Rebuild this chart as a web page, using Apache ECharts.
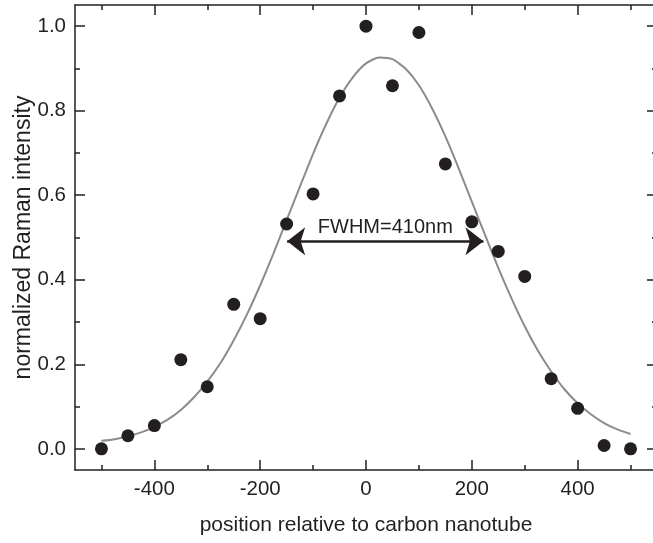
<!DOCTYPE html>
<html><head><meta charset="utf-8">
<script src="https://cdn.jsdelivr.net/npm/echarts@6/dist/echarts.min.js"></script>
<style>html,body{margin:0;padding:0;background:#fff}#c{width:653px;height:543px}</style>
</head><body><div id="c"></div>
<script>
const positions = [-500,-450,-400,-350,-300,-250,-200,-150,-100,-50,0,50,100,150,200,250,300,350,400,450,500];
const intensity = [0.0,0.031,0.055,0.211,0.147,0.342,0.308,0.532,0.603,0.835,1.0,0.859,0.985,0.674,0.537,0.467,0.408,0.166,0.096,0.008,0.0];
const fitX = [-500,-475,-450,-425,-400,-375,-350,-325,-300,-275,-250,-225,-200,-175,-150,-125,-100,-75,-50,-25,0,25,50,75,100,125,150,175,200,225,250,275,300,325,350,375,400,425,450,475,500];
const fitY = [0.019,0.023,0.030,0.039,0.052,0.069,0.092,0.122,0.159,0.203,0.257,0.318,0.387,0.462,0.541,0.620,0.698,0.769,0.831,0.879,0.912,0.926,0.922,0.899,0.860,0.805,0.739,0.664,0.585,0.506,0.428,0.356,0.290,0.232,0.183,0.141,0.108,0.082,0.061,0.046,0.035];
const xMajorTicks = [-400,-200,0,200,400];
const xMinorTicks = [-500,-300,-100,100,300,500];
const yMajorTicks = [0,0.2,0.4,0.6,0.8,1.0];
const yMinorTicks = [0.1,0.3,0.5,0.7,0.9];
const fwhmArrow = {from:-149, to:222, level:0.491};
const fwhmLabel = 'FWHM=410nm';
const xTitle = 'position relative to carbon nanotube';
const yTitle = 'normalized Raman intensity';

const INK = '#231f20';
const FONT = 'Liberation Sans, Arial, Helvetica, sans-serif';
const X_MIN = -550, X_MAX = 550, Y_MIN = -0.05, Y_MAX = 1.05;

function mkAxis(kind, pos, ticks, len, showLine, showLabels, extra) {
  const ax = {
    type: 'value', position: pos,
    min: kind === 'x' ? X_MIN : Y_MIN, max: kind === 'x' ? X_MAX : Y_MAX,
    axisLine: {show: showLine, onZero: false, lineStyle: {color: INK, width: 1.5}},
    axisTick: {show: true, inside: true, length: len, customValues: ticks, lineStyle: {color: INK, width: 1.5}},
    axisLabel: {show: showLabels, customValues: ticks, color: INK, fontSize: 20.5, fontFamily: FONT, margin: 9,
      formatter: kind === 'y' ? (v => v.toFixed(1)) : (v => String(v))},
    splitLine: {show: false}
  };
  return Object.assign(ax, extra || {});
}

const chart = echarts.init(document.getElementById('c'), null, {renderer: 'canvas'});
chart.setOption({
  animation: false,
  backgroundColor: '#fff',
  grid: {left: 75, top: 5, width: 582, height: 465, containLabel: false, outerBoundsMode: 'none'},
  xAxis: [
    mkAxis('x', 'bottom', xMajorTicks, 10, true, true, {
      name: xTitle, nameLocation: 'middle', nameGap: 45, nameMoveOverlap: false,
      nameTextStyle: {color: INK, fontSize: 21, fontFamily: FONT}
    }),
    mkAxis('x', 'bottom', xMinorTicks, 5, false, false),
    mkAxis('x', 'top', xMajorTicks, 10, true, false),
    mkAxis('x', 'top', xMinorTicks, 5, false, false)
  ],
  yAxis: [
    mkAxis('y', 'left', yMajorTicks, 10, true, true, {
      name: yTitle, nameLocation: 'middle', nameGap: 40, nameMoveOverlap: false,
      nameTextStyle: {color: INK, fontSize: 23, fontFamily: FONT}
    }),
    mkAxis('y', 'left', yMinorTicks, 5, false, false),
    mkAxis('y', 'right', yMajorTicks, 10, true, false),
    mkAxis('y', 'right', yMinorTicks, 5, false, false)
  ],
  series: [
    {
      type: 'line', xAxisIndex: 0, yAxisIndex: 0,
      data: fitX.map((x, i) => [x, fitY[i]]),
      smooth: 0.2, showSymbol: false, symbol: 'none',
      lineStyle: {color: '#8c8c8c', width: 2}, z: 2,
      markLine: {
        silent: true, animation: false,
        symbol: ['arrow', 'arrow'], symbolSize: [21, 18],
        lineStyle: {color: INK, width: 2.5, type: 'solid'},
        itemStyle: {color: INK},
        label: {show: true, formatter: fwhmLabel, position: 'insideMiddleTop', distance: 4,
          color: INK, fontSize: 20, fontFamily: FONT},
        data: [[{coord: [fwhmArrow.from, fwhmArrow.level]}, {coord: [fwhmArrow.to, fwhmArrow.level]}]]
      }
    },
    {
      type: 'scatter', xAxisIndex: 0, yAxisIndex: 0,
      data: positions.map((x, i) => [x, intensity[i]]),
      symbol: 'circle', symbolSize: 13,
      itemStyle: {color: INK, opacity: 1}, z: 3
    }
  ]
});
</script>
</body></html>
